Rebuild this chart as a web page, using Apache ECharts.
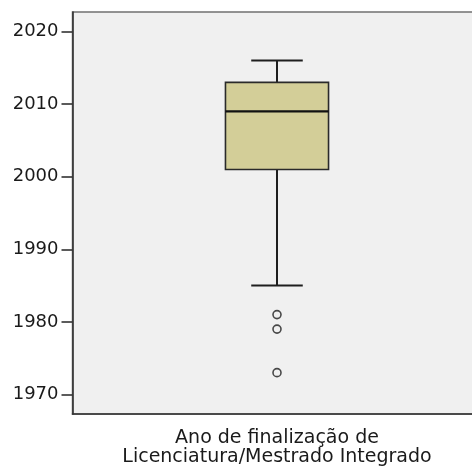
<!DOCTYPE html>
<html>
<head>
<meta charset="utf-8">
<script src="https://cdn.jsdelivr.net/npm/echarts@6/dist/echarts.min.js"></script>
<style>
  html, body { margin: 0; padding: 0; background: #fff; }
  #chart { width: 472px; height: 468px; }
</style>
</head>
<body>
<div id="chart"></div>
<script>
// data
const categories = ['Ano de finalização de\nLicenciatura/Mestrado Integrado'];
// [lower whisker, Q1, median, Q3, upper whisker]
const boxValues = [[1985, 2001, 2009, 2013, 2016]];
const outliers = [1981, 1979, 1973];
const yTicks = [1970, 1980, 1990, 2000, 2010, 2020];

const chart = echarts.init(document.getElementById('chart'));

const lineColor = '#1e1e1e';

function renderBox(params, api) {
  const x = api.value(0);
  const lo = api.coord([x, api.value(1)]);
  const q1 = api.coord([x, api.value(2)]);
  const med = api.coord([x, api.value(3)]);
  const q3 = api.coord([x, api.value(4)]);
  const hi = api.coord([x, api.value(5)]);
  const band = api.size([1, 0])[0];
  const halfBox = band * 0.126;
  const halfCap = halfBox / 2;
  const cx = q1[0];
  const lineStyle = { stroke: lineColor, lineWidth: 2 };
  return {
    type: 'group',
    children: [
      { type: 'line', shape: { x1: cx, y1: hi[1], x2: cx, y2: q3[1] }, style: lineStyle },
      { type: 'line', shape: { x1: cx, y1: q1[1], x2: cx, y2: lo[1] }, style: lineStyle },
      { type: 'line', shape: { x1: cx - halfCap, y1: hi[1], x2: cx + halfCap, y2: hi[1] }, style: lineStyle },
      { type: 'line', shape: { x1: cx - halfCap, y1: lo[1], x2: cx + halfCap, y2: lo[1] }, style: lineStyle },
      { type: 'rect', shape: { x: cx - halfBox, y: q3[1], width: halfBox * 2, height: q1[1] - q3[1] },
        style: { fill: '#d3ce98', stroke: '#2a2a2a', lineWidth: 1.6 } },
      { type: 'line', shape: { x1: cx - halfBox, y1: med[1], x2: cx + halfBox, y2: med[1] },
        style: { stroke: '#111', lineWidth: 2.4 } }
    ]
  };
}

const option = {
  animation: false,
  backgroundColor: '#fff',
  grid: {
    left: 72.5,
    top: 12,
    bottom: 54,
    right: -9.5,
    outerBoundsMode: 'none',
    containLabel: false,
    show: true,
    backgroundColor: '#f0f0f0',
    borderColor: '#707070',
    borderWidth: 1.5
  },
  xAxis: {
    type: 'category',
    data: categories,
    axisLine: { lineStyle: { color: '#333', width: 1.6 } },
    axisTick: { alignWithLabel: true, length: 11, lineStyle: { color: '#333', width: 1.6 } },
    axisLabel: {
      margin: 15,
      color: '#1a1a1a',
      fontFamily: 'DejaVu Sans',
      fontSize: 19,
      lineHeight: 19
    },
    splitLine: { show: false }
  },
  yAxis: {
    type: 'value',
    min: 1967.3,
    max: 2022.7,
    axisLine: { show: true, lineStyle: { color: '#333', width: 1.6 } },
    axisTick: { show: true, length: 11, customValues: yTicks, lineStyle: { color: '#333', width: 1.6 } },
    axisLabel: {
      margin: 14,
      customValues: yTicks,
      formatter: v => String(v),
      color: '#1a1a1a',
      fontFamily: 'DejaVu Sans',
      fontSize: 18
    },
    splitLine: { show: false }
  },
  series: [
    {
      type: 'custom',
      renderItem: renderBox,
      encode: { x: 0, y: [1, 2, 3, 4, 5] },
      data: boxValues.map((v, i) => [i].concat(v)),
      z: 2
    },
    {
      type: 'scatter',
      symbol: 'circle',
      symbolSize: 8,
      itemStyle: { color: 'rgba(0,0,0,0)', borderColor: '#1e1e1e', borderWidth: 1.6 },
      data: outliers.map(v => [0, v]),
      z: 3
    }
  ]
};

chart.setOption(option);
</script>
</body>
</html>
